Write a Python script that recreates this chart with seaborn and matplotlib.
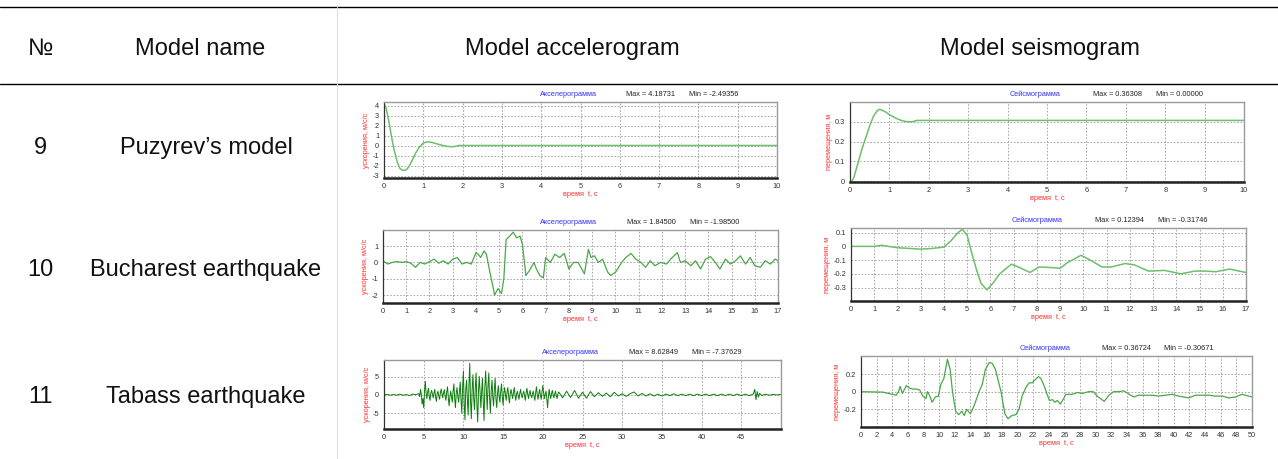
import numpy as np
import pandas as pd
import matplotlib
matplotlib.use("Agg")
import matplotlib.pyplot as plt
from matplotlib.lines import Line2D
from matplotlib.ticker import MultipleLocator
import seaborn as sns

sns.set_style("white")
plt.rcParams['font.family'] = ['Liberation Sans', 'DejaVu Sans']

# ---------------- table text ----------------
header_labels = ["№", "Model name", "Model accelerogram", "Model seismogram"]
row_numbers = ["9", "10", "11"]
row_names = ["Puzyrev’s model", "Bucharest earthquake", "Tabass earthquake"]

acc_title = "Акселерограмма"
seis_title = "Сейсмограмма"
acc_ylabel = "ускорения, м/с/с"
seis_ylabel = "перемещения, м"
time_xlabel = "время  t, c"

# ---------------- row 9: Puzyrev's model ----------------
puz_acc_t = [0, 0.05, 0.1, 0.15, 0.2, 0.25, 0.3, 0.35, 0.4, 0.45, 0.5, 0.55, 0.6,
             0.65, 0.7, 0.8, 0.9, 1.0, 1.1, 1.2, 1.3, 1.4, 1.5, 1.6, 1.7, 1.8, 1.9, 10]
puz_acc_v = [4.19, 3.8, 2.9, 1.8, 0.7, -0.3, -1.1, -1.8, -2.25, -2.45, -2.49, -2.45, -2.3,
             -2.0, -1.6, -0.8, -0.15, 0.25, 0.36, 0.33, 0.22, 0.1, 0.0, -0.08, -0.12, -0.1, 0.0, 0.0]
puz_acc_max, puz_acc_min = "4.18731", "-2.49356"

puz_seis_t = [0, 0.05, 0.1, 0.2, 0.3, 0.4, 0.5, 0.6, 0.7, 0.75, 0.8, 0.9, 1.0, 1.1,
              1.2, 1.3, 1.4, 1.5, 1.6, 1.7, 10]
puz_seis_v = [0, 0.0, 0.02, 0.09, 0.16, 0.22, 0.28, 0.33, 0.358, 0.363, 0.36, 0.35, 0.336,
              0.325, 0.315, 0.307, 0.302, 0.300, 0.301, 0.307, 0.307]
puz_seis_max, puz_seis_min = "0.36308", "0.00000"

# ---------------- row 10: Bucharest earthquake ----------------
buc_acc_t = [0, 0.2, 0.4, 0.6, 0.8, 1.0, 1.2, 1.4, 1.6, 1.8, 2.0, 2.2, 2.4, 2.6, 2.8,
             3.0, 3.2, 3.4, 3.6, 3.8, 4.0, 4.1, 4.2, 4.35, 4.45, 4.6, 4.75, 4.8, 4.95,
             5.1, 5.2, 5.3, 5.45, 5.6, 5.75, 5.9, 6.0, 6.15, 6.3, 6.5, 6.6, 6.75, 6.9,
             7.0, 7.2, 7.4, 7.6, 7.8, 8.0, 8.2, 8.4, 8.67, 8.84, 8.95, 9.1, 9.27, 9.45,
             9.67, 9.8, 10.0, 10.1, 10.27, 10.45, 10.67, 10.88, 11.1, 11.3, 11.5, 11.7,
             11.95, 12.2, 12.38, 12.67, 12.8, 13.0, 13.25, 13.45, 13.67, 13.88, 14.1,
             14.3, 14.5, 14.74, 14.95, 15.17, 15.38, 15.6, 15.8, 16.0, 16.24, 16.45,
             16.67, 16.88, 17.0]
buc_acc_v = [0.1, -0.1, 0.0, 0.05, 0.0, 0.05, -0.05, -0.3, 0.0, -0.1, 0.05, 0.2, -0.05,
             0.1, -0.1, 0.2, 0.3, -0.1, 0.0, -0.1, 0.6, 0.5, 0.3, 0.7, 0.5, -0.6, -1.6,
             -2.0, -1.6, -1.9, -1.0, 1.4, 1.6, 1.85, 1.5, 1.6, 1.1, -0.8, -0.5, 0.0,
             -0.4, -0.8, -0.95, 0.3, 0.0, 0.5, 0.3, 0.55, -0.4, 0.0, 0.0, -0.7, 0.8,
             0.3, 0.4, 0.0, 0.2, -0.6, -0.8, -0.6, -0.4, 0.0, 0.3, 0.55, 0.2, 0.0,
             -0.3, 0.1, -0.2, 0.0, -0.1, 0.2, 0.6, 0.0, 0.1, -0.2, 0.1, -0.4, 0.2,
             0.35, 0.0, -0.4, 0.2, -0.1, 0.1, 0.4, -0.1, 0.3, -0.2, -0.3, 0.1, -0.1,
             0.2, 0.1]
buc_acc_max, buc_acc_min = "1.84500", "-1.98500"

buc_seis_t = [0, 1.0, 1.3, 2.0, 3.0, 3.5, 4.0, 4.3, 4.6, 4.8, 5.0, 5.2, 5.4, 5.6, 5.85,
              6.1, 6.4, 6.9, 7.2, 7.7, 8.1, 8.7, 9.0, 9.3, 9.9, 10.3, 10.8, 11.2, 11.8,
              12.2, 12.8, 13.5, 14.2, 14.8, 15.3, 15.7, 16.3, 16.7, 17.0]
buc_seis_v = [0, 0.0, 0.008, -0.01, -0.02, -0.015, -0.005, 0.04, 0.1, 0.124, 0.08, -0.05,
              -0.17, -0.27, -0.317, -0.27, -0.2, -0.13, -0.15, -0.19, -0.15, -0.155, -0.16,
              -0.12, -0.065, -0.1, -0.15, -0.15, -0.125, -0.135, -0.18, -0.175, -0.2,
              -0.18, -0.18, -0.185, -0.165, -0.18, -0.19]
buc_seis_max, buc_seis_min = "0.12394", "-0.31746"

# ---------------- row 11: Tabass earthquake ----------------
tab_acc_t = [0, 0.4, 0.8, 1.2, 1.6, 2.0, 2.4, 2.8, 3.2, 3.6, 4.0,
             4.4, 4.5, 4.6, 4.7, 4.8, 4.9, 5.0, 5.1, 5.2, 5.3, 5.4, 5.5, 5.6, 5.7, 5.8, 5.9,
             6.0, 6.1, 6.2, 6.3, 6.4, 6.5, 6.6, 6.7, 6.8, 6.9, 7.0, 7.1, 7.2, 7.3, 7.4, 7.5,
             7.6, 7.7, 7.8, 7.9, 8.0, 8.1, 8.2, 8.3, 8.4, 8.5, 8.6, 8.7, 8.8, 8.9, 9.0, 9.1,
             9.2, 9.3, 9.4, 9.5, 9.6, 9.7, 9.8, 9.9, 10.0, 10.1, 10.2, 10.3, 10.4, 10.5,
             10.6, 10.7, 10.8, 10.9, 11.0, 11.1, 11.2, 11.3, 11.4, 11.5, 11.6, 11.7, 11.8,
             11.9, 12.0, 12.1, 12.2, 12.3, 12.4, 12.5, 12.6, 12.7, 12.8, 12.9, 13.0, 13.1,
             13.2, 13.3, 13.4, 13.5, 13.6, 13.7, 13.8, 13.9, 14.0, 14.1, 14.2, 14.3, 14.4,
             14.5, 14.6, 14.7, 14.8, 14.9, 15.0, 15.1, 15.2, 15.3, 15.4, 15.5, 15.6, 15.7,
             15.8, 15.9, 16.0, 16.1, 16.2, 16.3, 16.4, 16.5, 16.6, 16.7, 16.8, 16.9, 17.0,
             17.1, 17.2, 17.3, 17.4, 17.5, 17.6, 17.7, 17.8, 17.9, 18.0, 18.1, 18.2, 18.3,
             18.4, 18.5, 18.6, 18.7, 18.8, 18.9, 19.0, 19.1, 19.2, 19.3, 19.4, 19.5, 19.6,
             19.7, 19.8, 19.9, 20.0, 20.1, 20.2, 20.3, 20.4, 20.5, 20.6, 20.7, 20.8, 20.9,
             21.0, 21.1, 21.2, 21.3, 21.4, 21.5, 21.6, 21.7, 21.8, 21.9, 22.0,
             22.5, 23.0, 23.5, 24.0, 24.5, 25.0, 25.5, 26.0, 26.5, 27.0, 27.5, 28.0,
             28.5, 29.0, 29.5, 30.0, 30.5, 31.0, 31.5, 32.0, 32.5, 33.0, 33.5, 34.0,
             34.5, 35.0, 35.5, 36.0, 36.5, 37.0, 37.5, 38.0, 38.5, 39.0, 39.5, 40.0,
             40.5, 41.0, 41.5, 42.0, 42.5, 43.0, 43.5, 44.0, 44.5, 45.0, 45.5, 46.0,
             46.5, 46.7, 46.85, 47.0, 47.15, 47.3, 47.6, 48.0, 48.5, 49.0, 49.5, 50.0]
tab_acc_v = [0, 0.1, -0.1, 0.1, -0.1, 0.2, -0.1, 0.1, -0.2, 0.2, 0.1,
             0.3, -0.5, 1.5, 0.2, -2.5, -1.0, -3.5, 1.0, 3.7, 0.5, -1.0, 0.8, 1.8, -0.5,
             -1.5, 0.5, 1.2, 0.2, -0.8, 0.6, 1.5, -0.6, -1.8, 0.4, 1.0, -0.3, -1.2, 0.5,
             1.6, 0.3, -0.8, 0.6, 1.4, -0.4, -1.5, 0.8, 2.2, -0.8, -3.0, -0.5, 1.0, -0.6,
             -2.0, 1.0, 3.0, -1.0, -3.5, 0.5, 2.0, -0.5, -2.0, 1.0, 3.5, -1.5, -5.0, 2.0,
             6.5, -2.5, -6.8, 1.5, 4.0, -1.5, -5.5, 3.0, 8.6, -2.0, -6.5, 1.5, 5.5, -1.0,
             -4.0, 2.0, 6.0, -2.5, -7.4, 1.0, 5.0, 0.5, -3.5, 1.0, 4.5, -2.0, -7.0, 2.0,
             6.5, 1.0, -4.0, 2.5, 6.0, -1.0, -5.0, 1.0, 4.0, -0.5, -3.0, 1.5, 4.5, -1.0,
             -3.5, 0.5, 2.5, -0.5, -2.0, 1.0, 3.0, -0.5, -2.8, 0.5, 2.0, 0.0, -1.5, 0.8,
             2.0, -0.5, -2.2, 0.3, 1.5, 0.2, -1.0, 0.6, 2.0, 0.0, -1.5, 0.2, 1.0, -0.2,
             -1.2, 0.4, 1.5, 0.0, -0.8, 0.3, 1.0, -0.3, -1.5, 0.5, 1.8, 0.2, -1.0, 0.4,
             1.2, -0.2, -0.8, 0.3, 1.0, -0.4, -1.5, 0.6, 2.2, 0.0, -1.2, 0.4, 1.5, -0.2,
             -1.2, 0.8, 2.5, 0.5, -1.0, 0.2, 1.0, -1.0, -3.5, -0.5, 1.5, 0.0, -1.0, 0.3,
             1.2, 0.0, -0.8, 0.2, 1.0, -0.2, -1.0, 0.2, 0.8,
             -0.8, 1.0, -0.7, 1.2, -0.9, 0.7, -0.9, 0.9, -0.5, 0.6, -0.4, 0.5,
             -0.5, 0.7, -0.3, 0.3, -0.4, 0.3, 0.8, -0.3, 0.4, -0.3, 0.3, -0.3,
             0.2, -0.3, 0.2, -0.2, 0.3, -0.2, 0.2, -0.2, 0.2, -0.2, 0.2, -0.2,
             0.2, -0.2, 0.2, -0.2, 0.2, -0.2, 0.2, -0.2, 0.2, -0.2, 0.2, -0.2,
             0.2, 1.5, -1.3, 0.9, -0.6, 0.4, -0.2, 0.2, -0.1, 0.1, 0.0, 0.1]
tab_acc_max, tab_acc_min = "8.62849", "-7.37629"

tab_seis_t = [0, 2.8, 4.5, 4.8, 5.0, 5.3, 5.8, 6.2, 6.6, 7.1, 7.5, 7.9, 8.3, 8.5, 8.8,
              9.1, 9.5, 9.9, 10.2, 10.6, 11.05, 11.4, 11.7, 12.1, 12.5, 12.9, 13.2,
              13.5, 14.0, 14.5, 15.1, 15.5, 15.9, 16.4, 16.8, 17.2, 17.9, 18.4, 18.8,
              19.3, 19.8, 20.2, 20.6, 21.1, 21.5, 21.9, 22.3, 22.7, 23.0, 23.4, 23.8,
              24.1, 24.5, 24.8, 25.1, 25.5, 25.9, 26.2, 27.0, 27.7, 28.3, 29.1, 29.7,
              30.2, 31.1, 31.7, 32.3, 33.0, 33.6, 34.3, 34.9, 35.5, 36.4, 37.2, 38.1,
              38.9, 39.8, 40.6, 41.9, 42.8, 43.6, 44.5, 45.3, 46.2, 47.0, 47.9, 48.7,
              49.6, 50.0]
tab_seis_v = [0, -0.005, -0.04, 0.0, 0.06, -0.02, 0.07, 0.04, 0.03, 0.03, 0.02, -0.05,
              -0.08, 0.0, -0.05, -0.12, -0.06, -0.05, 0.08, 0.15, 0.367, 0.25, 0.0,
              -0.22, -0.26, -0.22, -0.27, -0.2, -0.25, -0.15, 0.0, 0.08, 0.25, 0.33,
              0.32, 0.25, 0.0, -0.25, -0.307, -0.27, -0.26, -0.2, -0.05, 0.05, 0.1,
              0.1, 0.14, 0.17, 0.15, 0.07, -0.03, -0.1, -0.09, -0.12, -0.1, -0.14,
              -0.08, -0.03, -0.03, -0.01, -0.02, 0.0, 0.0, -0.05, -0.11, -0.04, 0.0,
              0.0, 0.01, -0.03, -0.06, -0.04, -0.04, -0.04, -0.05, -0.04, -0.03,
              -0.05, -0.07, -0.04, -0.04, -0.04, -0.05, -0.05, -0.07, -0.06, -0.03,
              -0.05, -0.06]
tab_seis_max, tab_seis_min = "0.36724", "-0.30671"

# ---------------- figure ----------------
W, H = 1278, 459
fig = plt.figure(figsize=(W / 100, H / 100), dpi=100)
fig.patch.set_facecolor("white")


def fx(px):
    return px / W


def fy(py):
    return 1 - py / H


# table lines
fig.add_artist(Line2D([0, 1], [fy(7), fy(7)], color="black", lw=1.0))
fig.add_artist(Line2D([0, 1], [fy(84), fy(84)], color="black", lw=1.0))
fig.add_artist(Line2D([fx(337), fx(337)], [fy(7), 0], color="#dddddd", lw=0.8))

BIG = 17
hdr_x = [40, 200, 572, 1040]
for x, lab in zip(hdr_x, header_labels):
    fig.text(fx(x), fy(49), lab, ha="center", va="center", fontsize=BIG, color="#111111")

row_y = [148, 270, 397]
for y, n, name in zip(row_y, row_numbers, row_names):
    fig.text(fx(40), fy(y), n, ha="center", va="center", fontsize=BIG, color="#111111")
    fig.text(fx(206), fy(y), name, ha="center", va="center", fontsize=BIG, color="#111111")

SMALL = 5.3


def make_ax(px_box, t, v, xlim, xstep, xminor, ylim, yticks, ylabel, title, vmax, vmin,
            color, lw, xmaxlabel=None):
    l, tp, r, b = px_box
    ax = fig.add_axes([fx(l), fy(b), fx(r - l), (b - tp) / H])
    df = pd.DataFrame({"t": t, "v": v})
    sns.lineplot(data=df, x="t", y="v", ax=ax, color=color, linewidth=lw,
                 estimator=None, sort=False)
    ax.set_xlim(*xlim)
    ax.set_ylim(*ylim)
    ax.xaxis.set_major_locator(MultipleLocator(xstep))
    ax.xaxis.set_minor_locator(MultipleLocator(xminor))
    ax.set_yticks(yticks)
    ax.set_yticklabels([("%g" % y) for y in yticks])
    if xmaxlabel is not None:
        ticks = [x for x in np.arange(xlim[0], xlim[1] + 1e-9, xstep)]
        ax.set_xticks(ticks)
        ax.set_xticklabels([("%g" % x) if x <= xmaxlabel else "" for x in ticks])
    ax.grid(True, which="major", linestyle=(0, (2, 2)), color="#9a9a9a", linewidth=0.6)
    ax.tick_params(axis="both", which="major", labelsize=SMALL, length=2, width=0.6,
                   pad=1.5, colors="#333333")
    ax.tick_params(axis="x", which="minor", length=1.5, width=0.5, colors="#333333")
    ax.tick_params(axis="y", which="minor", length=0)
    for s in ["top", "right"]:
        ax.spines[s].set_color("#9a9a9a")
        ax.spines[s].set_linewidth(1.0)
    ax.spines["left"].set_color("#333333")
    ax.spines["left"].set_linewidth(0.9)
    ax.spines["bottom"].set_color("#222222")
    ax.spines["bottom"].set_linewidth(1.8)
    ax.set_xlabel(time_xlabel, fontsize=SMALL, color="#ff3030", labelpad=1)
    ax.set_ylabel(ylabel, fontsize=SMALL, color="#ff3030", labelpad=1.5)
    ax.annotate(title, xy=(0.47, 1.0), xycoords="axes fraction", xytext=(0, 3),
                textcoords="offset points", ha="center", va="bottom", fontsize=SMALL,
                color="#3333ff")
    ax.annotate("Max = " + vmax, xy=(0.617, 1.0), xycoords="axes fraction", xytext=(0, 3),
                textcoords="offset points", ha="left", va="bottom", fontsize=SMALL,
                color="#222222")
    ax.annotate("Min = " + vmin, xy=(0.776, 1.0), xycoords="axes fraction", xytext=(0, 3),
                textcoords="offset points", ha="left", va="bottom", fontsize=SMALL,
                color="#222222")
    return ax


LIGHT = "#6cbf6c"
MID = "#4aa64a"
DARK = "#0b7d0b"

make_ax((384, 102, 777, 178), puz_acc_t, puz_acc_v, (0, 10), 1, 0.25, (-3.25, 4.35),
        [4, 3, 2, 1, 0, -1, -2, -3], acc_ylabel, acc_title, puz_acc_max, puz_acc_min,
        LIGHT, 1.1)
make_ax((850, 102, 1244, 182), puz_seis_t, puz_seis_v, (0, 10), 1, 0.25, (-0.004, 0.4),
        [0.3, 0.2, 0.1, 0], seis_ylabel, seis_title, puz_seis_max, puz_seis_min,
        LIGHT, 1.1)
make_ax((383, 230, 778, 303), buc_acc_t, buc_acc_v, (0, 17), 1, 0.25, (-2.48, 1.98),
        [1, 0, -1, -2], acc_ylabel, acc_title, buc_acc_max, buc_acc_min,
        MID, 0.9)
make_ax((851, 228, 1246, 301), buc_seis_t, buc_seis_v, (0, 17), 1, 0.25, (-0.398, 0.134),
        [0.1, 0, -0.1, -0.2, -0.3], seis_ylabel, seis_title, buc_seis_max, buc_seis_min,
        LIGHT, 1.1)
make_ax((384, 360, 781, 429), tab_acc_t, tab_acc_v, (0, 50), 5, 1, (-9.3, 9.5),
        [5, 0, -5], acc_ylabel, acc_title, tab_acc_max, tab_acc_min,
        DARK, 0.7, xmaxlabel=45)
make_ax((861, 356, 1252, 427), tab_seis_t, tab_seis_v, (0, 50), 2, 0.5, (-0.4, 0.404),
        [0.2, 0, -0.2], seis_ylabel, seis_title, tab_seis_max, tab_seis_min,
        MID, 0.9)

fig.savefig("out.png", dpi=100, facecolor="white")
